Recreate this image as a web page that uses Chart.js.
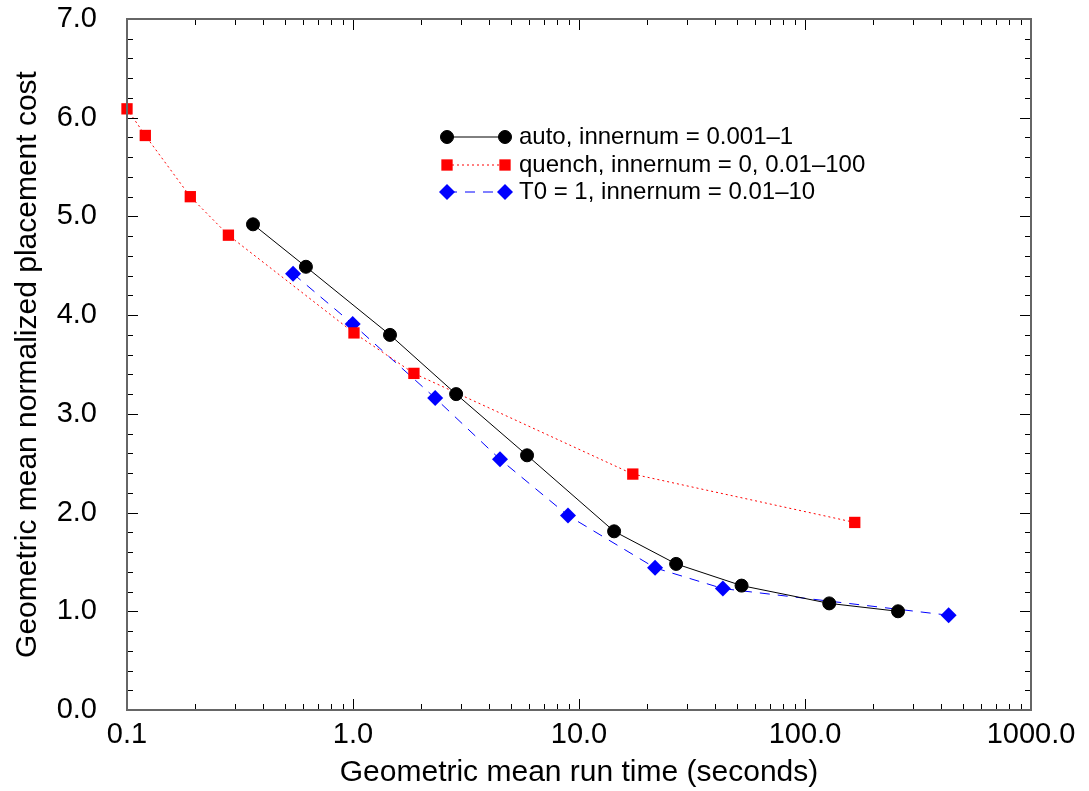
<!DOCTYPE html>
<html>
<head>
<meta charset="utf-8">
<script src="https://cdn.jsdelivr.net/npm/chart.js@4.4.1/dist/chart.umd.min.js"></script>
<style>
  html, body { margin: 0; padding: 0; background: #fff; }
  #caja { width: 1089px; height: 791px; }
</style>
</head>
<body>
<div id="caja"><canvas id="costo"></canvas></div>
<script>
// run time (s) / normalized cost
const autoX = [0.361, 0.619, 1.458, 2.86, 5.89, 14.3, 26.9, 52.4, 128, 258];
const autoY = [4.92, 4.49, 3.80, 3.20, 2.58, 1.81, 1.48, 1.26, 1.08, 1.00];

const quenchX = [0.100, 0.1205, 0.1906, 0.281, 1.01, 1.86, 17.3, 166];
const quenchY = [6.09, 5.82, 5.20, 4.81, 3.82, 3.41, 2.39, 1.90];

const t0X = [0.543, 0.997, 2.31, 4.47, 8.94, 21.7, 43.3, 432];
const t0Y = [4.42, 3.91, 3.16, 2.54, 1.97, 1.44, 1.23, 0.96];

const seriesNames = ['auto, innernum = 0.001\u20131', 'quench, innernum = 0, 0.01\u2013100', 'T0 = 1, innernum = 0.01\u201310'];

const xDecades = [0.1, 1, 10, 100, 1000];
const xTickLabels = ['0.1', '1.0', '10.0', '100.0', '1000.0'];
const yTickLabels = ['0.0', '1.0', '2.0', '3.0', '4.0', '5.0', '6.0', '7.0'];

const puntos = (xs, ys) => xs.map((x, i) => ({ x: x, y: ys[i] }));

// inward ticks + frame, like the original plot
const marco = {
  id: 'marco',
  afterDatasetsDraw(chart) {
    const { ctx, chartArea: a } = chart;
    const xs = chart.scales.x, ys = chart.scales.y;
    ctx.save();
    ctx.strokeStyle = '#000';
    ctx.lineWidth = 1;
    ctx.beginPath();
    xs.ticks.forEach(t => {
      const px = Math.round(xs.getPixelForValue(t.value)) + 0.5;
      const len = t.major ? 11 : 6;
      ctx.moveTo(px, a.bottom); ctx.lineTo(px, a.bottom - len);
      ctx.moveTo(px, a.top); ctx.lineTo(px, a.top + len);
    });
    ys.ticks.forEach(t => {
      const py = Math.round(ys.getPixelForValue(t.value)) + 0.5;
      const len = t.major ? 11 : 6;
      ctx.moveTo(a.left, py); ctx.lineTo(a.left + len, py);
      ctx.moveTo(a.right, py); ctx.lineTo(a.right - len, py);
    });
    ctx.stroke();
    ctx.strokeStyle = '#666';
    ctx.lineWidth = 2;
    ctx.strokeRect(a.left, a.top, a.right - a.left, a.bottom - a.top);
    ctx.restore();
  }
};

// legend inside the plot
const leyenda = {
  id: 'leyenda',
  afterDraw(chart) {
    const ctx = chart.ctx;
    const x0 = 447, x1 = 505, tx = 519;
    const filas = [137, 165, 192];
    ctx.save();
    chart.data.datasets.forEach((ds, i) => {
      const y = filas[i];
      ctx.strokeStyle = ds.borderColor;
      ctx.lineWidth = ds.borderWidth;
      ctx.setLineDash(ds.borderDash || []);
      ctx.beginPath();
      ctx.moveTo(x0, y); ctx.lineTo(x1, y);
      ctx.stroke();
      ctx.setLineDash([]);
      const opts = {
        pointStyle: ds.pointStyle, radius: ds.pointRadius, rotation: 0,
        borderWidth: ds.pointBorderWidth
      };
      ctx.fillStyle = ds.pointBackgroundColor;
      ctx.strokeStyle = ds.pointBorderColor;
      ctx.lineWidth = ds.pointBorderWidth;
      Chart.helpers.drawPoint(ctx, opts, x0, y);
      Chart.helpers.drawPoint(ctx, opts, x1, y);
      ctx.fillStyle = '#000';
      ctx.font = '24px "Liberation Sans", Arial, sans-serif';
      ctx.textBaseline = 'middle';
      ctx.fillText(seriesNames[i], tx, y);
    });
    ctx.restore();
  }
};

const fuente = '"Liberation Sans", Arial, sans-serif';

new Chart(document.getElementById('costo'), {
  type: 'line',
  data: {
    datasets: [{
      label: seriesNames[0],
      data: puntos(autoX, autoY),
      borderColor: '#000',
      borderWidth: 1,
      pointStyle: 'circle',
      pointRadius: 6.5,
      pointBorderWidth: 1,
      pointBackgroundColor: '#000',
      pointBorderColor: '#000',
      clip: false
    }, {
      label: seriesNames[1],
      data: puntos(quenchX, quenchY),
      borderColor: '#ff0000',
      borderWidth: 1,
      borderDash: [2, 3],
      pointStyle: 'rect',
      pointRadius: 8,
      pointBorderWidth: 0,
      pointBackgroundColor: '#ff0000',
      pointBorderColor: '#ff0000',
      clip: false
    }, {
      label: seriesNames[2],
      data: puntos(t0X, t0Y),
      borderColor: '#0000ff',
      borderWidth: 1,
      borderDash: [10, 8],
      pointStyle: 'rectRot',
      pointRadius: 8,
      pointBorderWidth: 0,
      pointBackgroundColor: '#0000ff',
      pointBorderColor: '#0000ff',
      clip: false
    }]
  },
  options: {
    responsive: true,
    maintainAspectRatio: false,
    animation: false,
    layout: { padding: { top: 19, right: 58, left: 0, bottom: 0 } },
    plugins: {
      legend: { display: false },
      tooltip: { enabled: false }
    },
    elements: { line: { tension: 0 } },
    scales: {
      x: {
        type: 'logarithmic',
        min: 0.1,
        max: 1000,
        afterBuildTicks(scale) {
          const t = [];
          xDecades.forEach((d, i) => {
            t.push({ value: d, major: true });
            if (i < xDecades.length - 1) {
              for (let k = 2; k <= 9; k++) t.push({ value: d * k, major: false });
            }
          });
          scale.ticks = t;
        },
        afterFit(scale) {
          scale.height = 81;
          scale.paddingLeft = 0;
          scale.paddingRight = 0;
        },
        grid: { display: false },
        border: { display: false },
        ticks: {
          autoSkip: false,
          maxRotation: 0,
          padding: 0,
          color: '#000',
          font: { family: fuente, size: 29 },
          callback(value) {
            const i = xDecades.findIndex(d => Math.abs(d - value) < 1e-9 * d);
            return i >= 0 ? xTickLabels[i] : '';
          }
        },
        title: {
          display: true,
          text: 'Geometric mean run time (seconds)',
          color: '#000',
          font: { family: fuente, size: 30 },
          padding: { top: 0, bottom: 0 }
        }
      },
      y: {
        min: 0,
        max: 7,
        afterBuildTicks(scale) {
          const t = [];
          for (let i = 0; i <= 35; i++) t.push({ value: i / 5, major: i % 5 === 0 });
          scale.ticks = t;
        },
        afterFit(scale) {
          scale.width = 127;
          scale.paddingTop = 0;
          scale.paddingBottom = 0;
        },
        grid: { display: false },
        border: { display: false },
        ticks: {
          autoSkip: false,
          padding: 22,
          color: '#000',
          font: { family: fuente, size: 29 },
          callback(value) {
            const r = Math.round(value);
            return Math.abs(value - r) < 1e-6 ? yTickLabels[r] : '';
          }
        },
        title: {
          display: true,
          text: 'Geometric mean normalized placement cost',
          color: '#000',
          font: { family: fuente, size: 30 },
          padding: { top: 10, bottom: 0 }
        }
      }
    }
  },
  plugins: [marco, leyenda]
});
</script>
</body>
</html>
